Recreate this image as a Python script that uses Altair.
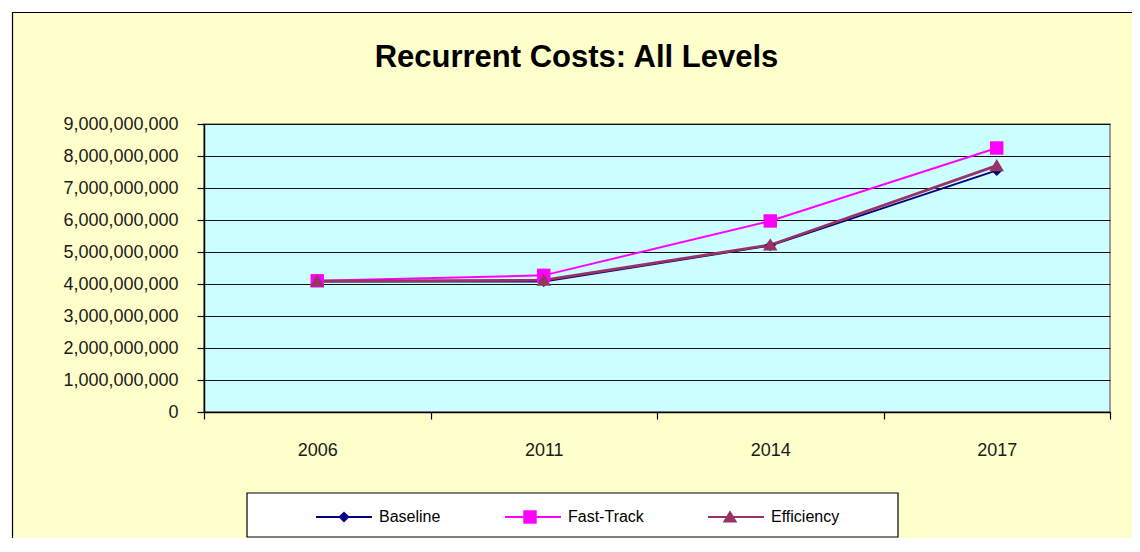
import altair as alt
import pandas as pd

title_text = "Recurrent Costs: All Levels"
years = ["2006", "2011", "2014", "2017"]
series = ["Baseline", "Fast-Track", "Efficiency"]
baseline = [4.08e9, 4.08e9, 5.20e9, 7.55e9]
fast_track = [4.10e9, 4.27e9, 5.97e9, 8.25e9]
efficiency = [4.09e9, 4.12e9, 5.22e9, 7.70e9]
y_ticks = [0, 1e9, 2e9, 3e9, 4e9, 5e9, 6e9, 7e9, 8e9, 9e9]

colors = ["#000080", "#FF00FF", "#993366"]
line_widths = [2, 2, 2.8]
# marker paths inside the -1..1 unit box (drawn with size 3136 -> 56 px box)
marker_paths = [
    "M0,-0.2L0.2,0L0,0.2L-0.2,0Z",
    "M-0.24,-0.24H0.24V0.24H-0.24Z",
    "M0,-0.24L0.26,0.2H-0.26Z",
]

rows = []
for name, vals in zip(series, [baseline, fast_track, efficiency]):
    for yr, v in zip(years, vals):
        rows.append({"series_l": name, "series_p": name, "year": yr, "value": v})
df = pd.DataFrame(rows)

FONT = "Liberation Sans, Arial"


def make_legend(label_opacity, symbol_type=None):
    kw = dict(
        orient="none",
        legendX=111,
        legendY=364,
        direction="horizontal",
        title=None,
        symbolSize=3136,
        symbolStrokeWidth=2,
        labelFont=FONT,
        labelFontSize=16,
        labelColor="#000000",
        labelOpacity=label_opacity,
        labelOffset=6,
        columnPadding=60,
        padding=0,
    )
    if symbol_type:
        kw["symbolType"] = symbol_type
    return alt.Legend(**kw)


x_enc = alt.X(
    "year:N",
    sort=years,
    scale=alt.Scale(type="band", paddingInner=0, paddingOuter=0),
    axis=alt.Axis(
        title=None,
        labelAngle=0,
        tickBand="extent",
        labelPadding=22,
        tickSize=7,
        grid=False,
    ),
)
y_enc = alt.Y(
    "value:Q",
    scale=alt.Scale(domain=[0, 9e9], nice=False),
    axis=alt.Axis(
        title=None,
        values=y_ticks,
        format=",.0f",
        labelPadding=19,
        tickSize=7,
        grid=True,
    ),
)

lines = alt.Chart(df).mark_line().encode(
    x=x_enc,
    y=y_enc,
    stroke=alt.Stroke(
        "series_l:N", sort=series, scale=alt.Scale(range=colors), legend=make_legend(1, "stroke")
    ),
    strokeWidth=alt.StrokeWidth(
        "series_l:N", sort=series, scale=alt.Scale(type="ordinal", range=line_widths), legend=None
    ),
)

pt_legend = make_legend(0)
points = alt.Chart(df).mark_point(filled=True, opacity=1, size=3136).encode(
    x=x_enc,
    y=y_enc,
    color=alt.Color(
        "series_p:N", scale=alt.Scale(domain=series, range=colors), legend=pt_legend
    ),
    shape=alt.Shape(
        "series_p:N", scale=alt.Scale(domain=series, range=marker_paths), legend=pt_legend
    ),
)

one = pd.DataFrame({"t": [title_text]})

frame_white = alt.Chart(one).mark_rect(fill=None, stroke="#FFFFFF", strokeWidth=9).encode(
    x=alt.value(-196), y=alt.value(-116), x2=alt.value(1100), y2=alt.value(700)
)
frame_black = alt.Chart(one).mark_rect(fill=None, stroke="#000000", strokeWidth=1.2).encode(
    x=alt.value(-191.5), y=alt.value(-111.5), x2=alt.value(1100), y2=alt.value(700)
)
legend_box = alt.Chart(one).mark_rect(fill="#FFFFFF", stroke="#000000", strokeWidth=1.2).encode(
    x=alt.value(43), y=alt.value(369), x2=alt.value(694), y2=alt.value(413)
)
title = alt.Chart(one).mark_text(
    font=FONT,
    fontWeight="bold",
    fontSize=31,
    color="#000000",
    align="center",
    baseline="alphabetic",
).encode(text="t:N", x=alt.value(372.5), y=alt.value(-57))

chart = (
    alt.layer(frame_white, frame_black, legend_box, title, lines, points)
    .properties(
        width=906,
        height=288,
        autosize=alt.AutoSizeParams(type="none"),
        padding={"left": 196, "top": 116, "right": 22, "bottom": 126},
        background="#FFFFCC",
    )
    .configure_view(fill="#CCFFFF", stroke="#808080", strokeWidth=1.5)
    .configure_axis(
        labelFont=FONT,
        labelFontSize=18,
        labelColor="#1a1a1a",
        tickColor="#000000",
        domainColor="#000000",
        domainWidth=1.5,
        tickWidth=1.2,
        gridColor="#111111",
        gridWidth=1.2,
        gridOpacity=1,
    )
)

chart.save("out.html", embed_options={"renderer": "svg", "actions": False})
